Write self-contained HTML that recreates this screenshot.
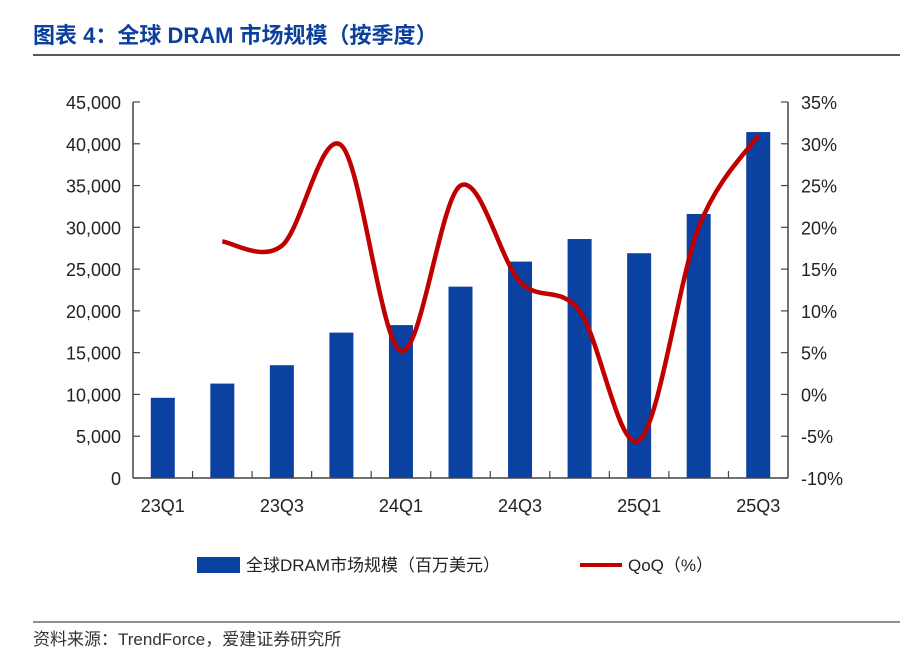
<!DOCTYPE html>
<html><head><meta charset="utf-8"><style>
body{margin:0;background:#fff;width:900px;height:656px;overflow:hidden;font-family:"Liberation Sans","Noto Sans CJK SC",sans-serif}
</style></head><body>
<svg width="900" height="656" xmlns="http://www.w3.org/2000/svg">
<text x="33" y="43" font-size="22" font-weight="bold" fill="#0B409C" font-family="Liberation Sans,Noto Sans CJK SC,sans-serif">图表 4：全球 DRAM 市场规模（按季度）</text>
<line x1="33" y1="55" x2="900" y2="55" stroke="#222" stroke-width="1.5"/>
<g id="plot"></g>
<g>
<rect x="197" y="557" width="43" height="16" fill="#0B41A0"/>
<text x="246" y="571" font-size="17" fill="#222">全球DRAM市场规模（百万美元）</text>
<line x1="580" y1="565" x2="622" y2="565" stroke="#C00000" stroke-width="4"/>
<text x="628" y="571" font-size="17" fill="#222">QoQ（%）</text>
</g>
<line x1="33" y1="622" x2="900" y2="622" stroke="#222" stroke-width="1"/>
<text x="33" y="645" font-size="17" fill="#333">资料来源：TrendForce，爱建证券研究所</text>
</svg>
<script>
const categories=["23Q1","23Q2","23Q3","23Q4","24Q1","24Q2","24Q3","24Q4","25Q1","25Q2","25Q3"];
const marketSize=[9600,11300,13500,17400,18300,22900,25900,28600,26900,31600,41400];
const qoq=[null,18.3,17.8,29.8,5.2,25,13.5,10,-5.5,20,31];
const leftTicks=[0,5000,10000,15000,20000,25000,30000,35000,40000,45000];
const rightTicks=[-10,-5,0,5,10,15,20,25,30,35];
const NS="http://www.w3.org/2000/svg";
const g=document.getElementById('plot');
const X0=133,X1=788,Y0=478,Y1=102;
const band=(X1-X0)/categories.length;
const xc=i=>X0+band*(i+0.5);
const yL=v=>Y0-(v/45000)*(Y0-Y1);
const yR=p=>Y0-((p+10)/45)*(Y0-Y1);
function mk(t,a){const e=document.createElementNS(NS,t);for(const k in a)e.setAttribute(k,a[k]);g.appendChild(e);return e;}
const fmt=v=>v.toLocaleString('en-US');
marketSize.forEach((v,i)=>{
 const r=mk('rect',{x:xc(i)-12,y:yL(v),width:24,height:Y0-yL(v),fill:'#0B41A0'});
 
 
});
let a=mk('line',{x1:X0,y1:Y1,x2:X0,y2:Y0,stroke:'#444','stroke-width':1.5});

a=mk('line',{x1:X1,y1:Y1,x2:X1,y2:Y0,stroke:'#444','stroke-width':1.5});

a=mk('line',{x1:X0,y1:Y0,x2:X1,y2:Y0,stroke:'#444','stroke-width':1.5});

leftTicks.forEach(v=>{
 mk('line',{x1:X0,y1:yL(v),x2:X0+7,y2:yL(v),stroke:'#444','stroke-width':1.2});
 const t=mk('text',{x:121,y:yL(v)+7,'font-size':18,'text-anchor':'end',fill:'#222'});t.textContent=fmt(v);
 
});
rightTicks.forEach(v=>{
 mk('line',{x1:X1-7,y1:yR(v),x2:X1,y2:yR(v),stroke:'#444','stroke-width':1.2});
 const t=mk('text',{x:801,y:yR(v)+7,'font-size':18,fill:'#222'});t.textContent=v+'%';
 
});
for(let i=1;i<categories.length;i++){const x=X0+band*i;mk('line',{x1:x,y1:Y0-7,x2:x,y2:Y0,stroke:'#444','stroke-width':1.2});}
categories.forEach((c,i)=>{if(i%2)return;
 const t=mk('text',{x:xc(i),y:512,'font-size':18,'text-anchor':'middle',fill:'#222'});t.textContent=c;
 
});
const pts=[];qoq.forEach((p,i)=>{if(p!==null)pts.push([xc(i),yR(p)]);});
let d='M'+pts[0][0]+','+pts[0][1];
for(let i=0;i<pts.length-1;i++){
 const p0=pts[Math.max(0,i-1)],p1=pts[i],p2=pts[i+1],p3=pts[Math.min(pts.length-1,i+2)];
 const k=1/6;
 d+=' C'+(p1[0]+(p2[0]-p0[0])*k)+','+(p1[1]+(p2[1]-p0[1])*k)+' '+(p2[0]-(p3[0]-p1[0])*k)+','+(p2[1]-(p3[1]-p1[1])*k)+' '+p2[0]+','+p2[1];
}
const ln=mk('path',{d:d,fill:'none',stroke:'#C00000','stroke-width':4.5,'stroke-linejoin':'round'});


</script>
</body></html>
